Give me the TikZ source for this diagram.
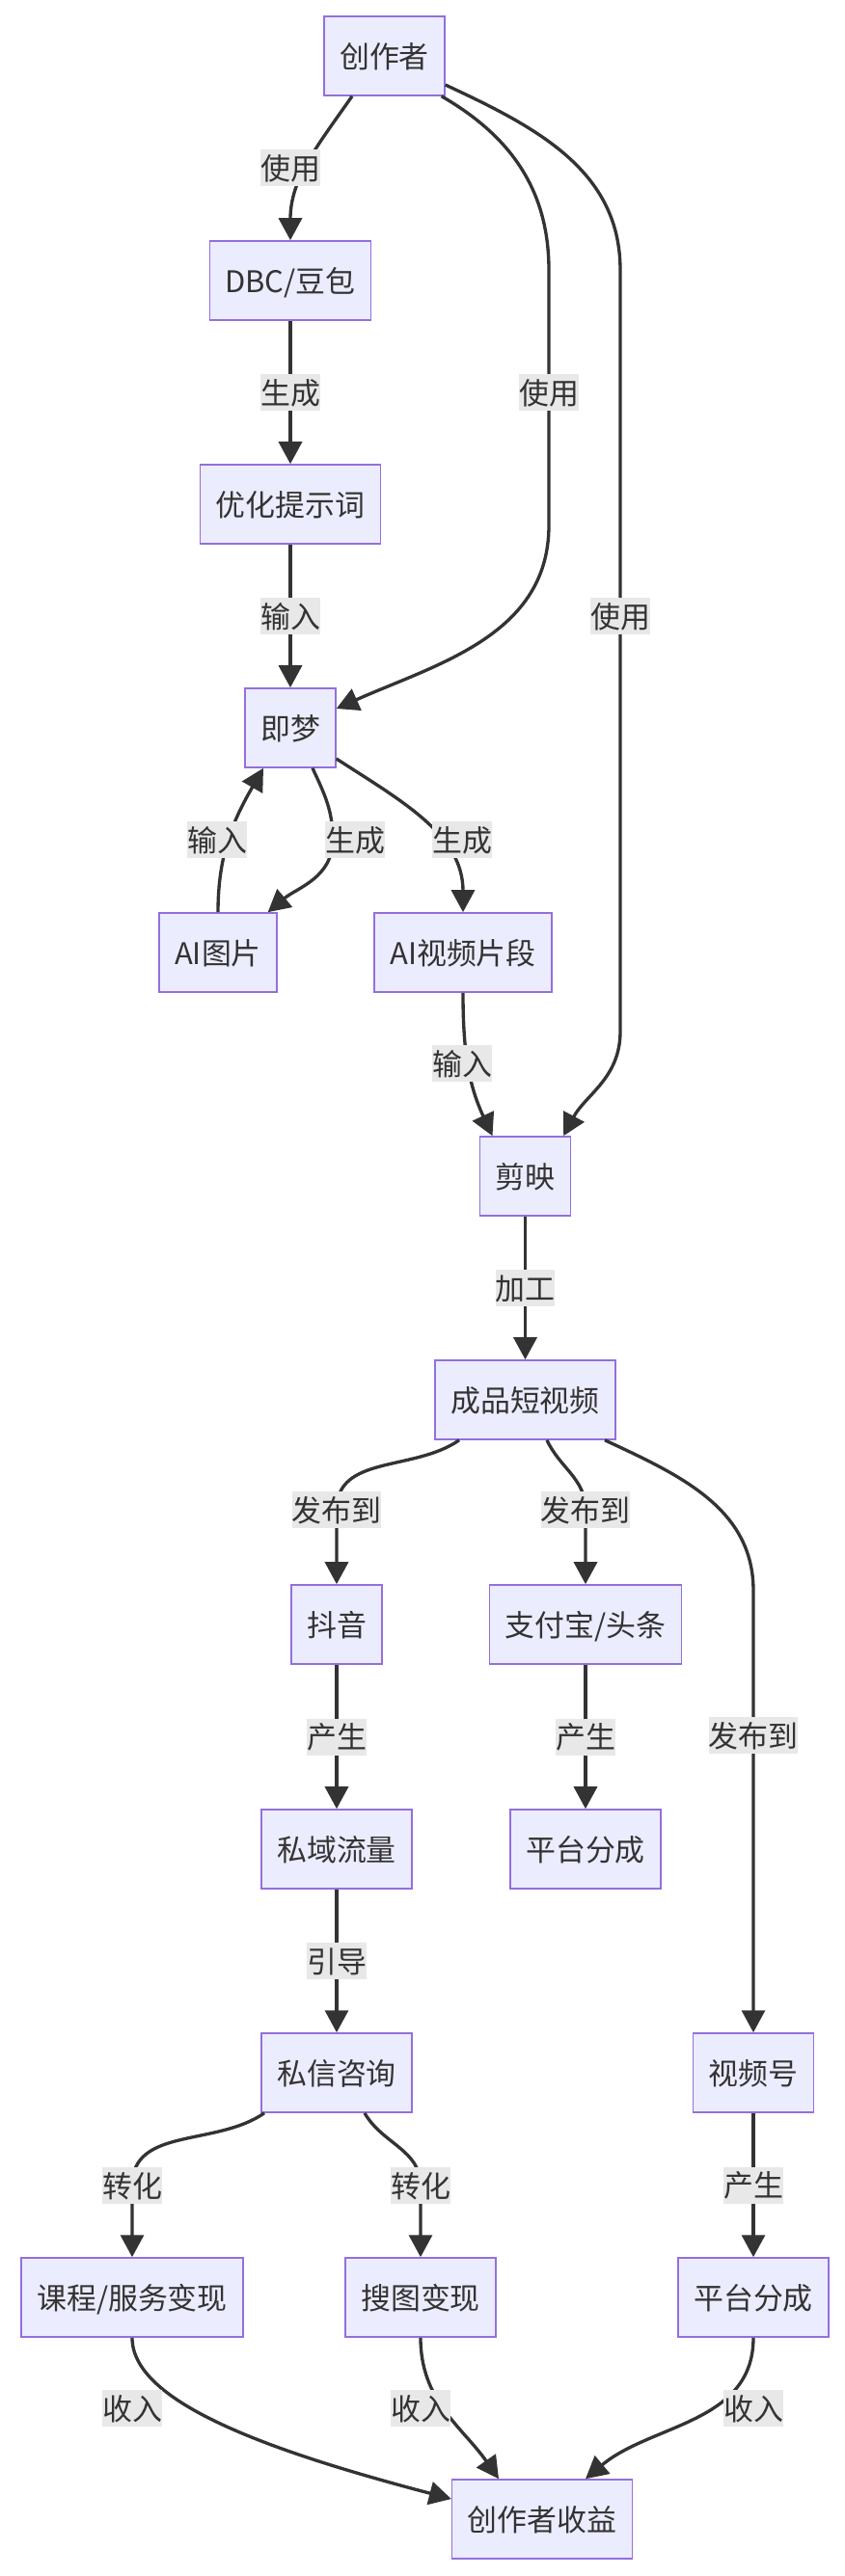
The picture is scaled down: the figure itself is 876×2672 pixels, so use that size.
\documentclass[tikz,border=0pt]{standalone}
\usepackage{fontspec}
\setmainfont{Noto Sans CJK SC}
\definecolor{flowFill}{HTML}{ECECFF}
\definecolor{flowBorder}{HTML}{9370DB}
\definecolor{flowLine}{HTML}{333333}
\definecolor{flowLabel}{HTML}{E8E8E8}
\usetikzlibrary{arrows.meta}

\begin{document}
\begin{tikzpicture}[
  x=0.02cm, y=0.02cm,
  box/.style={draw=flowBorder, line width=0.9pt, fill=flowFill, text=flowLine,
              minimum height=1.64cm, inner xsep=0.32cm, text height=0.55cm,
              text depth=0.07cm, font=\fontsize{17.6}{21}\selectfont},
  lbl/.style={fill=flowLabel, text=flowLine, inner xsep=0pt, inner ysep=0.07cm,
              text height=0.55cm, text depth=0.07cm, font=\fontsize{17.6}{21}\selectfont},
  link/.style={draw=flowLine, line width=1.9pt,
               -{Triangle[length=0.46cm,width=0.48cm]}}
]
  \useasboundingbox (0,0) rectangle (876,-2672);

  \node[box] (creator)  at (398.5,-58)   {创作者};
  \node[box] (dbc)      at (301,-291)    {DBC/豆包};
  \node[box] (prompt)   at (301,-523)    {优化提示词};
  \node[box] (jimeng)   at (301,-755)    {即梦};
  \node[box] (aiimg)    at (226,-988)    {AI图片};
  \node[box] (aivid)    at (480,-988)    {AI视频片段};
  \node[box] (jianying) at (544.5,-1220) {剪映};
  \node[box] (video)    at (544.5,-1452) {成品短视频};
  \node[box] (douyin)   at (349,-1685)   {抖音};
  \node[box] (zfb)      at (607,-1685)   {支付宝/头条};
  \node[box] (siyu)     at (349,-1918)   {私域流量};
  \node[box] (share1)   at (607,-1918)   {平台分成};
  \node[box] (sixin)    at (349,-2150)   {私信咨询};
  \node[box] (sph)      at (781,-2150)   {视频号};
  \node[box] (course)   at (137,-2383)   {课程/服务变现};
  \node[box] (soutu)    at (436,-2383)   {搜图变现};
  \node[box] (share2)   at (781,-2383)   {平台分成};
  \node[box] (income)   at (562,-2613)   {创作者收益};

  % tools
  \draw[link] ([xshift=-0.67cm]creator.south) to[out=-125,in=90] (dbc.north)
    node[lbl] (t1) at (301,-174) {使用};
  \draw[link] (dbc) -- node[lbl] (t2) {生成} (prompt);
  \draw[link] (prompt) -- node[lbl] (t3) {输入} (jimeng);
  \draw[link] ([xshift=-0.08cm]creator.south east) to[out=-30,in=90] (569,-280)
    -- (569,-545) to[out=-90,in=24] ([yshift=0.4cm]jimeng.east)
    node[lbl] (t4) at (569,-407) {使用};
  \draw[link] ([yshift=-0.6cm]creator.east) to[out=-25,in=90] (643,-280)
    -- (643,-1070) to[out=-90,in=62] ([xshift=-0.16cm]jianying.north east)
    node[lbl] (t5) at (643,-639) {使用};

  % jimeng
  \draw[link] ([xshift=0.46cm]jimeng.south) to[out=-65,in=90] (345,-871)
    to[out=-90,in=40] ([xshift=-0.2cm]aiimg.north east)
    node[lbl] (t6) at (368,-871) {生成};
  \draw[link] (aiimg.north) to[out=90,in=-120] ([xshift=-0.56cm]jimeng.south)
    node[lbl] (t7) at (225,-871) {输入};
  \draw[link] ([yshift=-0.64cm]jimeng.east) to[out=-33,in=90] (aivid.north)
    node[lbl] (t8) at (479,-871) {生成};
  \draw[link] (aivid.south) to[out=-90,in=115] ([xshift=-0.68cm]jianying.north)
    node[lbl] (t9) at (479,-1103) {输入};
  \draw[link] (jianying) -- node[lbl] (t10) {加工} (video);

  % publish
  \draw[link] ([xshift=-1.37cm]video.south) to[out=-145,in=90] (349,-1566)
    -- (douyin.north) node[lbl] (t11) at (349,-1566) {发布到};
  \draw[link] ([xshift=0.45cm]video.south) to[out=-65,in=90] (607,-1566)
    -- (zfb.north) node[lbl] (t12) at (607,-1566) {发布到};
  \draw[link] ([xshift=1.65cm]video.south) to[out=-25,in=90] (781,-1650)
    -- (sph.north) node[lbl] (t13) at (781,-1800) {发布到};
  \draw[link] (douyin) -- node[lbl] (t14) {产生} (siyu);
  \draw[link] (zfb) -- node[lbl] (t15) {产生} (share1);
  \draw[link] (siyu) -- node[lbl] (t16) {引导} (sixin);
  \draw[link] ([xshift=-1.5cm]sixin.south) to[out=-145,in=90] (137,-2267)
    -- (course.north) node[lbl] (t17) at (137,-2267) {转化};
  \draw[link] ([xshift=0.58cm]sixin.south) to[out=-60,in=90] (436,-2267)
    -- (soutu.north) node[lbl] (t18) at (436,-2267) {转化};
  \draw[link] (sph) -- node[lbl] (t19) {产生} (share2);

  % income
  \draw[link] (course.south) .. controls (137,-2490) and (270,-2540)
    .. ([yshift=0.42cm]income.west) node[lbl] (t20) at (137,-2498) {收入};
  \draw[link] (soutu.south) to[out=-90,in=125] ([xshift=-0.9cm]income.north)
    node[lbl] (t21) at (436,-2498) {收入};
  \draw[link] (share2.south) to[out=-90,in=40] ([xshift=0.9cm]income.north)
    node[lbl] (t22) at (781,-2498) {收入};
\end{tikzpicture}
\end{document}
